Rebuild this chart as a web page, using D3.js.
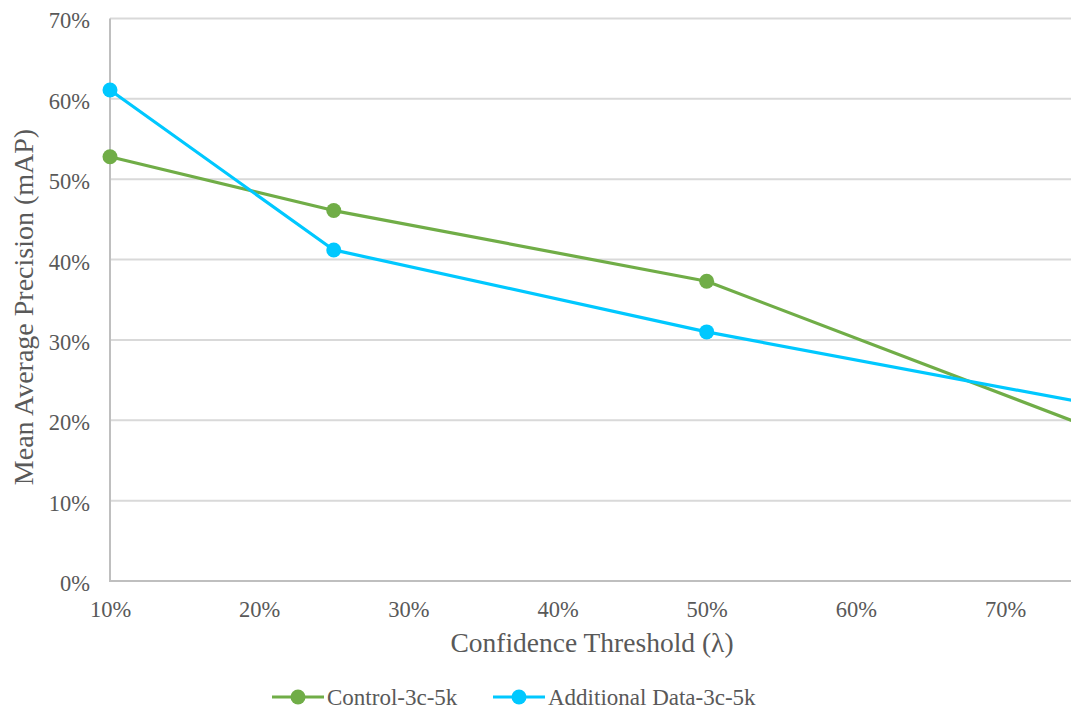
<!DOCTYPE html>
<html>
<head>
<meta charset="utf-8">
<script src="https://cdn.jsdelivr.net/npm/d3@7"></script>
<style>
  html, body { margin: 0; padding: 0; background: #fff; }
  svg { display: block; }
  text { font-family: "Liberation Serif", "Times New Roman", serif; fill: #595959; }
</style>
</head>
<body>
<svg id="chart" width="1071" height="717"></svg>
<script>
// Confidence thresholds (x) and mAP values per series (percent)
const thresholds = [0.10, 0.25, 0.50, 0.75];
const controlMAP = [52.8, 46.1, 37.3, 19.6];
const additionalMAP = [61.1, 41.2, 31.0, 22.3];
const seriesNames = ["Control-3c-5k", "Additional Data-3c-5k"];
const seriesColors = ["#70AD47", "#00C8FF"];
const xTicks = [0.1, 0.2, 0.3, 0.4, 0.5, 0.6, 0.7];
const yTicks = [0, 10, 20, 30, 40, 50, 60, 70];

const width = 1071, height = 717;
const svg = d3.select("#chart");

const x = d3.scaleLinear().domain([0.1, 0.7]).range([110, 1005]);
const y = d3.scaleLinear().domain([0, 70]).range([581, 18.5]);

const plotRight = width + 20;

// Horizontal gridlines
svg.append("g")
  .selectAll("line")
  .data(yTicks.filter(d => d > 0))
  .join("line")
  .attr("x1", x(0.1)).attr("x2", plotRight)
  .attr("y1", d => y(d)).attr("y2", d => y(d))
  .attr("stroke", "#d9d9d9").attr("stroke-width", 2);

// Axis lines
svg.append("line")
  .attr("x1", x(0.1)).attr("x2", x(0.1))
  .attr("y1", y(70)).attr("y2", y(0))
  .attr("stroke", "#bfbfbf").attr("stroke-width", 2);
svg.append("line")
  .attr("x1", x(0.1) - 1).attr("x2", plotRight)
  .attr("y1", y(0)).attr("y2", y(0))
  .attr("stroke", "#bfbfbf").attr("stroke-width", 2);

// Y tick labels
const yAxis = d3.axisLeft(y).tickValues(yTicks).tickFormat(d => d + "%").tickSize(0).tickPadding(20);
const gy = svg.append("g").attr("transform", `translate(${x(0.1)},0)`).call(yAxis);
gy.select(".domain").remove();
gy.selectAll("text")
  .attr("dy", "0.42em")
  .style("font-family", '"Liberation Serif", serif')
  .style("font-size", "22.5px").attr("fill", "#595959");

// X tick labels
const xAxis = d3.axisBottom(x).tickValues(xTicks).tickFormat(d3.format(".0%")).tickSize(0).tickPadding(20);
const gx = svg.append("g").attr("transform", `translate(0,${y(0)})`).call(xAxis);
gx.select(".domain").remove();
gx.selectAll("text")
  .style("font-family", '"Liberation Serif", serif')
  .style("font-size", "22.5px").attr("fill", "#595959");

// Axis titles
svg.append("text")
  .attr("x", 592).attr("y", 652)
  .attr("text-anchor", "middle")
  .style("font-size", "27.5px")
  .text("Confidence Threshold (λ)");

svg.append("text")
  .attr("transform", `translate(33,307) rotate(-90)`)
  .attr("text-anchor", "middle")
  .style("font-size", "28px")
  .text("Mean Average Precision (mAP)");

// Series lines and markers
const series = [controlMAP, additionalMAP];
const line = d3.line().x((d, i) => x(thresholds[i])).y(d => y(d));

series.forEach((vals, s) => {
  svg.append("path")
    .datum(vals)
    .attr("d", line)
    .attr("fill", "none")
    .attr("stroke", seriesColors[s])
    .attr("stroke-width", 3.2)
    .attr("stroke-linejoin", "round");
  svg.append("g")
    .selectAll("circle")
    .data(vals)
    .join("circle")
    .attr("cx", (d, i) => x(thresholds[i]))
    .attr("cy", d => y(d))
    .attr("r", 7.5)
    .attr("fill", seriesColors[s]);
});

// Legend
const legendItems = [
  { x0: 272, text: seriesNames[0], color: seriesColors[0] },
  { x0: 493, text: seriesNames[1], color: seriesColors[1] }
];
const legendY = 697;
const lg = svg.append("g");
legendItems.forEach(item => {
  lg.append("line")
    .attr("x1", item.x0).attr("x2", item.x0 + 52)
    .attr("y1", legendY).attr("y2", legendY)
    .attr("stroke", item.color).attr("stroke-width", 3.2);
  lg.append("circle")
    .attr("cx", item.x0 + 26).attr("cy", legendY).attr("r", 7.5)
    .attr("fill", item.color);
  lg.append("text")
    .attr("x", item.x0 + 55).attr("y", legendY + 8)
    .style("font-size", "23px")
    .text(item.text);
});
</script>
</body>
</html>
